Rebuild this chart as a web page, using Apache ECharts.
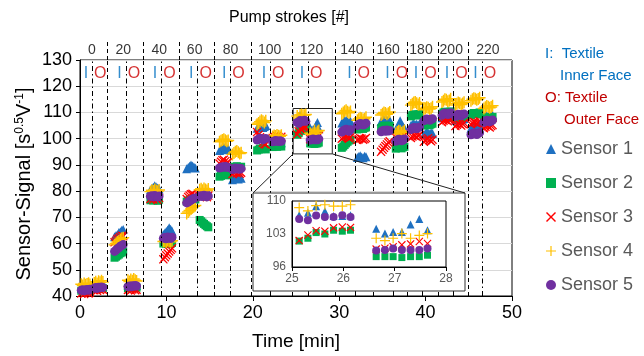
<!DOCTYPE html>
<html><head><meta charset="utf-8">
<script src="https://cdn.jsdelivr.net/npm/echarts@6/dist/echarts.min.js"></script>
<style>html,body{margin:0;padding:0;background:#fff}#c{width:644px;height:356px}</style>
</head><body><div id="c"></div>
<script>
// ---- data ----
const pumpStrokes = [0,20,40,60,80,100,120,140,160,180,200,220];
const segmentBounds = [3.2,7.3,11.5,15.5,19.8,24.55,29.5,33.9,37.9,41.5,44.9];   // dashed lines (min)
const ioSplits = [1.4,5.3,9.4,13.6,17.4,22.0,26.4,31.9,36.3,39.6,43.2,46.5];       // dash-dot lines (min)
// start time of each measurement cluster (I, O for each pump-stroke step)
const clusterStart = [0.15,1.65, 4.0,5.55, 8.15,9.65, 12.35,13.85, 16.15,17.65, 20.5,22.3,
                      25.14,26.64, 30.3,32.1, 34.85,36.55, 38.3,39.8, 41.9,43.45, 45.25,46.75];
const sampleOffset = [0,0.17,0.33,0.5,0.67,0.84,1.0];
const seriesNames = ['Sensor 1','Sensor 2','Sensor 3','Sensor 4','Sensor 5'];

const sensor1 = [
 [43.0,43.2,42.8,43.1,43.3,43.0,43.2],[43.5,43.7,43.4,43.8,43.6,43.9,43.7],
 [62.6,63.1,63.4,64.2,64.5,65.1,65.4],[44.2,44.0,44.3,44.1,44.4,44.2,44.0],
 [80.5,81.0,81.5,82.0,81.6,81.2,80.8],[63.5,64.0,64.6,65.2,66.0,65.5,64.8],
 [88.5,89.0,89.5,90.0,89.6,89.2,88.8],[79.0,79.3,79.1,79.4,79.2,79.0,79.3],
 [95.5,96.0,96.5,96.8,96.2,95.8,96.3],[84.3,84.8,85.2,85.0,84.6,85.3,84.9],
 [104.0,104.5,105.0,104.8,104.3,104.6,105.0],[98.0,98.3,98.1,98.5,98.2,97.9,98.4],
 [107.0,107.5,108.9,107.8,106.8,106.8,107.0],[104.1,103.1,103.4,103.4,105.0,106.2,103.8],
 [106.0,106.3,106.8,107.0,106.5,106.2,106.6],[92.8,93.2,93.5,93.0,92.7,93.3,93.1],
 [106.5,107.0,107.3,106.8,107.2,106.6,107.0],[103.5,104.0,105.0,106.8,105.5,104.5,104.0],
 [105.0,105.5,105.8,105.3,105.6,105.2,105.7],[101.5,102.0,102.5,102.2,101.8,102.3,102.0],
 [108.0,108.3,108.6,108.4,108.1,108.5,108.7],[107.0,107.3,107.6,107.4,107.1,107.5,107.7],
 [104.0,104.5,105.0,104.8,104.3,104.6,105.2],[108.0,108.4,108.7,108.5,108.2,108.6,108.9]];
const sensor2 = [
 [42.0,42.2,41.8,42.1,42.3,42.0,42.4],[42.8,43.0,42.7,43.1,42.9,43.2,43.0],
 [54.6,55.0,55.4,55.8,56.3,56.6,57.0],[43.0,43.2,42.9,43.1,43.3,43.0,43.2],
 [76.5,76.8,76.4,76.9,76.6,76.3,76.7],[60.0,60.2,59.8,60.3,60.1,59.9,60.2],
 [76.0,76.3,76.6,76.9,77.2,77.0,76.8],[69.0,68.5,68.0,67.5,67.0,66.6,66.2],
 [85.5,85.8,86.2,86.5,86.3,86.0,86.4],[89.0,89.3,89.0,89.5,89.2,88.9,89.3],
 [95.5,95.8,96.2,96.0,96.4,96.1,95.9],[96.8,97.0,97.2,96.9,97.1,97.3,97.0],
 [101.5,102.1,103.3,103.0,103.8,103.6,103.8],[98.2,98.2,98.2,98.0,98.2,98.2,98.5],
 [96.5,97.0,97.6,98.2,98.8,99.3,99.6],[103.5,103.8,104.2,104.0,103.7,104.1,104.3],
 [104.0,104.5,104.8,105.0,104.6,104.3,104.9],[96.2,96.5,96.8,96.6,96.3,96.7,96.9],
 [108.5,109.0,109.3,109.1,108.8,109.2,109.4],[105.0,105.3,105.6,105.4,105.1,105.5,105.7],
 [109.5,110.0,110.3,110.1,109.8,110.2,110.4],[107.8,108.2,108.5,108.3,108.0,108.4,108.6],
 [109.0,109.5,109.8,109.6,109.3,109.7,110.0],[107.5,107.9,108.2,108.0,107.6,108.1,108.3]];
const sensor3 = [
 [41.0,41.4,40.8,41.2,41.5,41.0,41.3],[42.2,42.5,42.0,42.6,42.3,42.7,42.4],
 [60.5,61.0,61.6,62.0,62.5,63.0,62.8],[42.3,42.6,42.1,42.5,42.8,42.2,42.4],
 [77.0,77.5,76.8,77.8,77.2,76.6,77.4],[54.0,54.8,55.5,56.2,57.0,57.6,58.2],
 [77.0,77.8,78.3,78.8,79.0,78.5,78.2],[78.0,78.4,77.8,78.5,78.1,77.7,78.3],
 [90.5,91.2,91.8,92.0,91.4,90.8,91.0],[86.5,87.0,87.3,86.8,87.2,86.6,87.0],
 [102.5,101.5,100.5,99.6,98.5,98.0,97.8],[100.3,100.8,100.5,101.0,100.6,100.2,100.7],
 [101.6,102.8,103.7,103.6,104.3,104.5,104.4],[99.8,100.0,100.3,100.7,100.9,101.4,101.0],
 [100.0,100.4,100.8,101.0,100.6,100.2,100.5],[99.5,99.8,100.2,100.0,99.6,99.9,100.3],
 [95.0,95.8,96.5,97.2,97.8,98.5,99.0],[100.5,100.9,101.2,101.0,100.7,101.1,101.3],
 [100.3,100.8,101.2,101.0,100.6,101.1,101.4],[98.8,99.3,99.8,100.2,99.5,99.0,99.6],
 [106.3,106.8,107.2,107.0,106.6,107.1,107.4],[104.8,105.3,105.8,105.5,105.0,105.6,106.0],
 [105.5,106.0,106.4,106.2,105.8,106.1,106.6],[104.0,104.5,105.0,104.7,104.3,104.8,105.2]];
const sensor4 = [
 [44.5,44.0,44.8,44.3,44.6,44.9,44.4],[45.0,45.4,44.8,45.6,45.2,45.8,45.3],
 [59.5,60.0,60.6,61.0,61.5,62.0,62.2],[46.0,45.5,46.3,45.8,46.5,46.0,45.7],
 [79.8,80.3,80.0,80.6,80.2,79.9,80.4],[60.8,61.0,60.6,61.2,60.9,60.7,61.1],
 [71.5,72.0,72.6,73.2,73.8,74.2,74.5],[80.5,80.9,80.3,81.0,80.6,80.2,80.8],
 [98.8,99.2,99.5,99.8,99.4,99.0,99.3],[94.0,94.5,95.0,95.3,94.8,94.3,94.6],
 [105.5,106.0,106.5,107.0,106.6,106.2,106.8],[100.8,101.2,101.0,101.4,101.1,100.9,101.3],
 [108.6,107.9,109.0,109.2,108.9,108.9,109.2],[102.1,101.6,102.1,103.1,102.1,102.7,103.1],
 [109.5,110.0,110.5,110.8,110.3,109.9,110.4],[107.0,107.5,108.0,107.8,107.3,107.6,108.2],
 [109.0,109.5,110.0,109.8,109.3,109.7,110.2],[102.0,102.5,103.0,102.8,102.3,102.6,103.1],
 [112.8,113.3,113.8,114.0,113.5,113.0,113.6],[111.0,111.5,112.0,111.8,111.3,111.6,112.2],
 [114.0,114.5,115.0,114.8,114.3,114.6,115.2],[112.8,113.3,113.8,113.5,113.0,113.4,113.9],
 [114.5,115.0,115.4,115.2,114.8,115.1,115.6],[111.5,112.0,112.5,112.2,111.8,112.1,112.6]];
const sensor5 = [
 [42.2,42.4,42.0,42.3,42.5,42.2,42.6],[43.0,43.2,42.9,43.3,43.1,43.4,43.2],
 [57.0,57.5,58.0,58.4,59.0,59.3,59.6],[43.6,43.8,43.5,43.9,43.7,44.0,43.8],
 [78.0,78.2,77.8,78.3,78.0,77.7,78.1],[62.0,62.3,61.8,62.5,62.2,61.9,62.4],
 [75.5,75.8,76.2,76.6,77.0,77.2,77.4],[78.0,78.2,77.9,78.4,78.1,77.8,78.2],
 [88.8,89.0,89.3,89.1,89.4,89.2,89.0],[88.2,88.5,88.8,88.4,88.7,88.3,88.6],
 [99.5,99.8,100.2,100.0,99.6,99.9,100.1],[98.8,99.0,99.3,99.1,98.9,99.2,99.0],
 [106.2,105.9,106.9,106.6,106.6,107.0,106.6],[99.5,99.6,99.9,99.6,99.6,99.6,99.9],
 [102.5,103.0,103.3,103.6,103.2,102.8,103.4],[105.0,105.4,105.8,105.6,105.2,105.5,105.9],
 [102.6,103.0,103.2,102.8,103.3,102.9,103.1],[99.0,99.4,99.8,99.6,99.2,99.5,99.9],
 [103.5,104.0,104.3,104.1,103.8,104.2,104.4],[106.8,107.2,107.5,107.3,107.0,107.4,107.6],
 [109.0,109.4,109.8,109.6,109.2,109.5,109.9],[108.5,109.0,109.3,109.1,108.7,109.2,109.4],
 [101.5,101.8,102.2,102.0,101.6,101.9,102.3],[106.2,106.6,107.0,106.8,106.4,106.7,107.1]];
const zoomBox = [[24.67,111.5],[29.2,94.2]]; // region magnified in the inset
const insetX = [25,28], insetY = [96,110];

// ---- styling ----
const FONT = 'Liberation Sans, Arial, sans-serif';
const CROSS = 'path://M1,0L5,4L9,0L10,1L6,5L10,9L9,10L5,6L1,10L0,9L4,5L0,1Z';
const PLUS = 'path://M4.4,0H5.6V4.4H10V5.6H5.6V10H4.4V5.6H0V4.4H4.4Z';
const colors = ['#1F70C1','#00B050','#FF0000','#FFC000','#7030A0'];
const symbols = ['triangle','rect',CROSS,PLUS,'circle'];
const sizeMain = [9,8,9,12,9];
const sizeInset = [8,7,8,10,8];
const sensors = [sensor1,sensor2,sensor3,sensor4,sensor5];

function toPoints(vals){
  const out=[];
  vals.forEach((cl,ci)=>cl.forEach((v,k)=>out.push([+(clusterStart[ci]+sampleOffset[k]).toFixed(2), v])));
  return out;
}
const segEdges = [0].concat(segmentBounds).concat([50]);
const segCenters = pumpStrokes.map((p,i)=>(segEdges[i]+segEdges[i+1])/2);

const mainGrid = {left:80, right:132, top:60, bottom:53};
const insetGrid = {left:292, top:201, width:154, height:66};

const series = [];
sensors.forEach((s,i)=>{
  series.push({name:seriesNames[i], type:'scatter', xAxisIndex:0, yAxisIndex:0,
    symbol:symbols[i], symbolSize:sizeMain[i], itemStyle:{color:colors[i], opacity:1},
    data:toPoints(s), animation:false});
});
// I / O letters + separator lines
series.push({name:'I', type:'scatter', xAxisIndex:0, yAxisIndex:0, symbolSize:0,
  data:ioSplits.map(x=>[x,125.0]), silent:true, animation:false,
  label:{show:true, position:'left', distance:4, formatter:'I', color:'#0070C0', fontSize:16, fontFamily:FONT},
  markLine:{silent:true, symbol:['none','none'], label:{show:false}, animation:false,
    lineStyle:{color:'#000', width:1, type:[5,3,1.5,3]}, data:ioSplits.map(x=>({xAxis:x}))}});
series.push({name:'O', type:'scatter', xAxisIndex:0, yAxisIndex:0, symbolSize:0,
  data:ioSplits.map(x=>[x,125.0]), silent:true, animation:false,
  label:{show:true, position:'right', distance:2, formatter:'O', color:'#CC0000', fontSize:16, fontFamily:FONT},
  markLine:{silent:true, symbol:['none','none'], label:{show:false}, animation:false,
    lineStyle:{color:'#000', width:1, type:[4,3]}, data:segmentBounds.map(x=>({xAxis:x}))},
  markArea:{silent:true, itemStyle:{color:'rgba(0,0,0,0)', borderColor:'#222', borderWidth:1},
    data:[[{coord:zoomBox[0]},{coord:zoomBox[1]}]]}});
// header: pump stroke labels + dashed separators above the plot
series.push({name:'strokes', type:'scatter', xAxisIndex:2, yAxisIndex:2, symbolSize:0, silent:true, animation:false,
  data:segCenters.map((c,i)=>[c,0.5,pumpStrokes[i]]),
  label:{show:true, position:'inside', offset:[-2,1], formatter:p=>p.data[2], color:'#000', fontSize:14, fontFamily:FONT},
  markLine:{silent:true, symbol:['none','none'], label:{show:false}, animation:false,
    lineStyle:{color:'#000', width:1, type:[4,3]}, data:segmentBounds.map(x=>({xAxis:x}))}});
// inset series
sensors.forEach((s,i)=>{
  series.push({name:seriesNames[i], type:'scatter', xAxisIndex:1, yAxisIndex:1, z:110, clip:true,
    symbol:symbols[i], symbolSize:sizeInset[i], itemStyle:{color:colors[i], opacity:1},
    data:toPoints(s), animation:false});
});

const chart = echarts.init(document.getElementById('c'), null, {renderer:'canvas'});
const option = {
  animation:false,
  textStyle:{fontFamily:FONT},
  grid:[
    Object.assign({show:true, borderColor:'#000', borderWidth:1, backgroundColor:'transparent'}, mainGrid),
    Object.assign({show:true, borderColor:'#000', borderWidth:1, backgroundColor:'#fff', z:110}, insetGrid),
    {left:80, right:132, top:39, height:21, show:false}
  ],
  xAxis:[
    {type:'value', gridIndex:0, min:0, max:50, interval:10,
      name:'Time [min]', nameLocation:'middle', nameGap:36,
      nameTextStyle:{fontSize:19, color:'#000', fontFamily:FONT},
      axisLine:{lineStyle:{color:'#000', width:1}}, axisTick:{show:true, length:5, lineStyle:{color:'#000'}},
      axisLabel:{fontSize:18, color:'#000', margin:8, fontFamily:FONT}, splitLine:{show:false}},
    {type:'value', gridIndex:1, min:insetX[0], max:insetX[1], interval:1, z:110,
      axisLine:{lineStyle:{color:'#000'}}, axisTick:{show:true, length:4, lineStyle:{color:'#000'}},
      axisLabel:{fontSize:12, color:'#595959', margin:6, fontFamily:FONT}, splitLine:{show:false}},
    {type:'value', gridIndex:2, min:0, max:50, show:false}
  ],
  yAxis:[
    {type:'value', gridIndex:0, min:40, max:130, interval:10,
      axisLine:{show:true, lineStyle:{color:'#000', width:1}}, axisTick:{show:true, length:4, lineStyle:{color:'#000'}},
      axisLabel:{fontSize:18, color:'#000', margin:8, fontFamily:FONT},
      splitLine:{show:true, lineStyle:{color:'#D9D9D9', width:1}}},
    {type:'value', gridIndex:1, min:insetY[0], max:insetY[1], interval:7, z:110,
      axisLine:{show:true, lineStyle:{color:'#000'}}, axisTick:{show:false},
      axisLabel:{fontSize:12, color:'#595959', margin:6, fontFamily:FONT}, splitLine:{show:false}},
    {type:'value', gridIndex:2, min:0, max:1, show:false}
  ],
  legend:{orient:'vertical', left:541, top:134, itemWidth:10, itemHeight:10, itemGap:14,
    textStyle:{fontSize:18, color:'#595959', fontFamily:FONT, lineHeight:20},
    data:seriesNames.map((n,i)=>({name:n, icon:symbols[i], itemStyle:{color:colors[i]}}))},
  series:series
};
chart.setOption(option);

// decorations: inset frame, connector lines, titles, I/O key
const fr = {x:insetGrid.left-39, y:insetGrid.top-8, w:insetGrid.width+58, h:insetGrid.height+32};
const bl = chart.convertToPixel({gridIndex:0}, [zoomBox[0][0], zoomBox[1][1]]);
const br = chart.convertToPixel({gridIndex:0}, [zoomBox[1][0], zoomBox[1][1]]);
chart.setOption({graphic:[
  {type:'rect', z:100, shape:{x:fr.x, y:fr.y, width:fr.w, height:fr.h}, style:{fill:'#fff', stroke:'#333', lineWidth:1}},
  {type:'line', z:100, shape:{x1:bl[0], y1:bl[1], x2:fr.x, y2:fr.y}, style:{stroke:'#222', lineWidth:1}},
  {type:'line', z:100, shape:{x1:br[0], y1:br[1], x2:fr.x+fr.w, y2:fr.y}, style:{stroke:'#222', lineWidth:1}},
  {type:'text', x:24, y:184, rotation:Math.PI/2, z:10,
    style:{text:'Sensor-Signal [s{sup|0.5}V{sup|-1}]', fill:'#000', font:'20px '+FONT, align:'center', verticalAlign:'middle',
      rich:{sup:{fontSize:12, fill:'#000', fontFamily:FONT, verticalAlign:'top', padding:[0,0,9,0]}}}},
  {type:'text', left:229, top:10, style:{text:'Pump strokes [#]', fill:'#000', font:'16px '+FONT}},
  {type:'text', left:545, top:46, style:{text:'I:  Textile', fill:'#0070C0', font:'15px '+FONT}},
  {type:'text', left:560, top:68, style:{text:'Inner Face', fill:'#0070C0', font:'15px '+FONT}},
  {type:'text', left:545, top:90, style:{text:'O: Textile', fill:'#C00000', font:'15px '+FONT}},
  {type:'text', left:564, top:112, style:{text:'Outer Face', fill:'#C00000', font:'15px '+FONT}}
]});
</script></body></html>
